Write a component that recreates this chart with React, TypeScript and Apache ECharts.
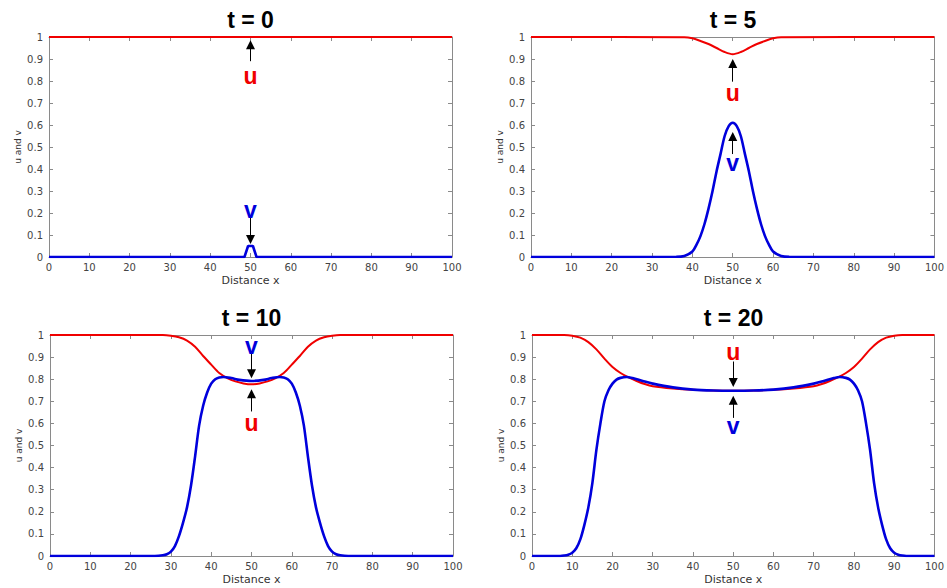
import React, { useEffect, useRef } from "react";
import * as echarts from "echarts";

// ---- Data ----
const TITLES = ["t = 0", "t = 5", "t = 10", "t = 20"];
const X_TICKS = [0, 10, 20, 30, 40, 50, 60, 70, 80, 90, 100];

// t = 0
const X0U = [0, 100];
const U0 = [1, 1];
const X0V = [0, 48.5, 49.4, 50.6, 51.5, 100];
const V0 = [0, 0, 0.05, 0.05, 0, 0];

// t = 5
const X5U = [0, 38, 40, 42, 44, 46, 48, 50, 52, 54, 56, 58, 60, 62, 100];
const U5 = [1, 0.999, 0.994, 0.982, 0.968, 0.95, 0.932, 0.922, 0.932, 0.95, 0.968, 0.982, 0.994, 0.999, 1];
const X5V = [0, 36, 38, 40, 41, 42, 43, 44, 45, 46, 47, 48, 49, 50, 51, 52, 53, 54, 55, 56, 57, 58, 59, 60, 62, 64, 100];
const V5 = [0, 0.001, 0.005, 0.025, 0.055, 0.095, 0.15, 0.22, 0.3, 0.39, 0.47, 0.55, 0.595, 0.61, 0.595, 0.55, 0.47, 0.39, 0.3, 0.22, 0.15, 0.095, 0.055, 0.025, 0.005, 0.001, 0];

// t = 10
const X10U = [0, 28, 30, 32, 34, 36, 38, 40, 42, 44, 46, 48, 50, 52, 54, 56, 58, 60, 62, 64, 66, 68, 70, 72, 100];
const U10 = [1, 1, 0.997, 0.99, 0.975, 0.947, 0.905, 0.866, 0.828, 0.805, 0.79, 0.781, 0.777, 0.781, 0.79, 0.805, 0.828, 0.866, 0.905, 0.947, 0.975, 0.99, 0.997, 1, 1];
const X10V = [0, 26, 28, 29, 30, 31, 32, 33, 34, 35, 36, 37, 38, 39, 40, 41, 42, 43, 45, 47, 50, 53, 55, 57, 58, 59, 60, 61, 62, 63, 64, 65, 66, 67, 68, 69, 70, 71, 72, 74, 100];
const V10 = [0, 0, 0.003, 0.008, 0.02, 0.045, 0.09, 0.15, 0.22, 0.32, 0.45, 0.59, 0.68, 0.74, 0.78, 0.8, 0.808, 0.81, 0.805, 0.797, 0.792, 0.797, 0.805, 0.81, 0.808, 0.8, 0.78, 0.74, 0.68, 0.59, 0.45, 0.32, 0.22, 0.15, 0.09, 0.045, 0.02, 0.008, 0.003, 0, 0];

// t = 20
const X20U = [0, 8, 10, 12, 14, 16, 18, 20, 22, 24, 26, 28, 30, 35, 40, 45, 50, 55, 60, 65, 70, 72, 74, 76, 78, 80, 82, 84, 86, 88, 90, 92, 100];
const U20 = [1, 1, 0.997, 0.988, 0.968, 0.935, 0.893, 0.855, 0.828, 0.808, 0.792, 0.778, 0.768, 0.758, 0.752, 0.749, 0.748, 0.749, 0.752, 0.758, 0.768, 0.778, 0.792, 0.808, 0.828, 0.855, 0.893, 0.935, 0.968, 0.988, 0.997, 1, 1];
const X20V = [0, 7, 8, 9, 10, 11, 12, 13, 14, 15, 16, 17, 18, 19, 20, 21, 22, 23.5, 25, 27.5, 30, 35, 40, 45, 50, 55, 60, 65, 70, 72.5, 75, 76.5, 78, 79, 80, 81, 82, 83, 84, 85, 86, 87, 88, 89, 90, 91, 92, 93, 100];
const V20 = [0, 0, 0.002, 0.006, 0.015, 0.035, 0.075, 0.14, 0.22, 0.33, 0.48, 0.6, 0.7, 0.75, 0.78, 0.798, 0.806, 0.81, 0.805, 0.792, 0.78, 0.763, 0.753, 0.749, 0.748, 0.749, 0.753, 0.763, 0.78, 0.792, 0.805, 0.81, 0.806, 0.798, 0.78, 0.75, 0.7, 0.6, 0.48, 0.33, 0.22, 0.14, 0.075, 0.035, 0.015, 0.006, 0.002, 0, 0];

// Annotations: [label, labelY, arrowFromY, arrowToY] at x = 50
const ANNOT_X = 50;
const ANNOT0 = [["u", 0.824, 0.89, 0.965], ["v", 0.214, 0.18, 0.08]];
const ANNOT5 = [["u", 0.745, 0.797, 0.88], ["v", 0.427, 0.468, 0.548]];
const ANNOT10 = [["v", 0.948, 0.92, 0.825], ["u", 0.604, 0.654, 0.734]];
const ANNOT20 = [["u", 0.925, 0.88, 0.785], ["v", 0.589, 0.625, 0.705]];

const PANELS = [
  { xu: X0U, u: U0, xv: X0V, v: V0, ann: ANNOT0, smoothV: false },
  { xu: X5U, u: U5, xv: X5V, v: V5, ann: ANNOT5, smoothV: true },
  { xu: X10U, u: U10, xv: X10V, v: V10, ann: ANNOT10, smoothV: true },
  { xu: X20U, u: U20, xv: X20V, v: V20, ann: ANNOT20, smoothV: true },
];

const RED = "#f00000";
const BLUE = "#0000dc";
const AXIS = "#8a8a8a";
const FONT = "'Liberation Sans', Arial, Helvetica, sans-serif";
const TICK_FONT = "'DejaVu Sans', 'Liberation Sans', sans-serif";

const GRIDS = [
  { left: 49, top: 37, width: 403, height: 220 },
  { left: 531, top: 37, width: 404, height: 220 },
  { left: 50, top: 335, width: 403, height: 221 },
  { left: 532, top: 335, width: 403, height: 221 },
];

function buildOption() {
  const xAxis: any[] = [];
  const yAxis: any[] = [];
  const series: any[] = [];
  const graphic: any[] = [];

  GRIDS.forEach((g, i) => {
    const common = {
      gridIndex: i,
      axisLine: { show: true, onZero: false, lineStyle: { color: AXIS, width: 1 } },
      axisTick: { show: true, inside: true, length: 4, lineStyle: { color: AXIS } },
      splitLine: { show: false },
    };
    xAxis.push({
      ...common,
      type: "value",
      position: "bottom",
      min: X_TICKS[0],
      max: X_TICKS[X_TICKS.length - 1],
      interval: 10,
      name: "Distance x",
      nameLocation: "middle",
      nameGap: 18,
      nameTextStyle: { fontSize: 11, color: "#333", fontFamily: TICK_FONT },
      axisLabel: { fontSize: 10, color: "#444", margin: 5, fontFamily: TICK_FONT },
    });
    xAxis.push({
      ...common,
      type: "value",
      position: "top",
      min: 0,
      max: 100,
      interval: 10,
      axisLabel: { show: false },
    });
    yAxis.push({
      ...common,
      type: "value",
      position: "left",
      min: 0,
      max: 1,
      interval: 0.1,
      name: "u and v",
      nameLocation: "middle",
      nameGap: 27,
      nameTextStyle: { fontSize: 9, color: "#333", fontFamily: TICK_FONT },
      axisLabel: { fontSize: 10, color: "#444", margin: 6, fontFamily: TICK_FONT },
    });
    yAxis.push({
      ...common,
      type: "value",
      position: "right",
      min: 0,
      max: 1,
      interval: 0.1,
      axisLabel: { show: false },
    });

    const p = PANELS[i];
    const markLineData = p.ann.map((a: any) => [
      { coord: [ANNOT_X, a[2]] },
      { coord: [ANNOT_X, a[3]] },
    ]);
    const markPointData = p.ann.map((a: any) => ({
      coord: [ANNOT_X, a[1]],
      label: {
        show: true,
        formatter: a[0],
        color: a[0] === "u" ? RED : BLUE,
        fontSize: 23,
        fontWeight: "bold",
        fontFamily: FONT,
        position: "inside",
      },
    }));

    series.push({
      type: "line",
      xAxisIndex: i * 2,
      yAxisIndex: i * 2,
      data: p.xu.map((x, k) => [x, p.u[k]]),
      showSymbol: false,
      smooth: 0.3,
      lineStyle: { color: RED, width: 2 },
      z: 2,
    });
    series.push({
      type: "line",
      xAxisIndex: i * 2,
      yAxisIndex: i * 2,
      data: p.xv.map((x, k) => [x, p.v[k]]),
      showSymbol: false,
      smooth: p.smoothV ? 0.3 : false,
      lineStyle: { color: BLUE, width: 2.6 },
      z: 3,
      markLine: {
        silent: true,
        symbol: ["none", "triangle"],
        symbolSize: 9,
        lineStyle: { color: "#000", width: 1, type: "solid", opacity: 1 },
        itemStyle: { color: "#000" },
        label: { show: false },
        data: markLineData,
      },
      markPoint: {
        silent: true,
        symbol: "rect",
        symbolSize: 1,
        itemStyle: { color: "transparent" },
        data: markPointData,
      },
    });

    graphic.push({
      type: "text",
      x: g.left + g.width / 2,
      y: g.top - 17,
      style: {
        text: TITLES[i],
        font: `bold 23px ${FONT}`,
        fill: "#000",
        textAlign: "center",
        textVerticalAlign: "middle",
      },
    });
  });

  return {
    animation: false,
    backgroundColor: "#fff",
    grid: GRIDS.map((g) => ({ ...g, containLabel: false })),
    xAxis,
    yAxis,
    series,
    graphic,
  };
}

export default function App() {
  const ref = useRef<HTMLDivElement>(null);
  useEffect(() => {
    if (!ref.current) return;
    const chart = echarts.init(ref.current, undefined, { renderer: "svg" });
    chart.setOption(buildOption() as any);
    return () => chart.dispose();
  }, []);
  return (
    <div
      ref={ref}
      style={{ position: "fixed", left: 0, top: 0, width: 947, height: 588, background: "#fff" }}
    />
  );
}
